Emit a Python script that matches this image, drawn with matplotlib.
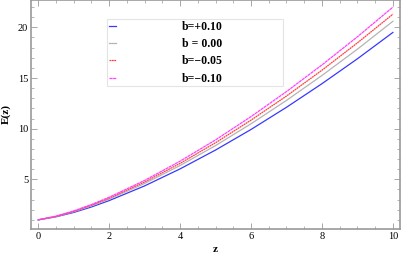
import matplotlib
matplotlib.use("Agg")
import matplotlib.pyplot as plt
from matplotlib.ticker import MultipleLocator
from matplotlib.transforms import IdentityTransform

# E(z)
z = [0, 0.5, 1, 1.5, 2, 3, 4, 5, 6, 7, 8, 9, 10]
e_p010 = [1.00, 1.30, 1.73, 2.27, 2.90, 4.35, 6.03, 7.89, 9.92, 12.11, 14.44, 16.90, 19.50]
e_000 = [1.00, 1.32, 1.80, 2.38, 3.04, 4.59, 6.36, 8.33, 10.48, 12.79, 15.25, 17.85, 20.60]
e_m005 = [1.00, 1.34, 1.84, 2.45, 3.14, 4.74, 6.57, 8.61, 10.84, 13.22, 15.77, 18.47, 21.30]
e_m010 = [1.00, 1.37, 1.88, 2.51, 3.23, 4.89, 6.79, 8.89, 11.19, 13.66, 16.29, 19.07, 22.00]
labels = ["b=+0.10", "b = 0.00", "b=\u22120.05", "b=\u22120.10"]

plt.rcParams["font.family"] = ["Liberation Serif", "DejaVu Serif"]

fig = plt.figure(figsize=(4.15, 2.59), dpi=100)
ax = fig.add_axes([31 / 415, 1 - 229 / 259, 369 / 415, 229 / 259])

ax.plot(z, e_p010, color="#3838ff", lw=0.9, label=labels[0])
ax.plot(z, e_000, color="#b4b4b4", lw=0.9, label=labels[1])
ax.plot(z, e_m005, color="#ff4040", lw=0.9, dashes=(1.5, 0.4), label=labels[2])
ax.plot(z, e_m010, color="#ff40ff", lw=0.9, dashes=(2.5, 0.4), label=labels[3])

ax.set_xlim(-0.2, 10.2)
ax.set_ylim(0.1, 22.7)
ax.xaxis.set_major_locator(MultipleLocator(2))
ax.xaxis.set_minor_locator(MultipleLocator(0.5))
ax.yaxis.set_major_locator(MultipleLocator(5))
ax.yaxis.set_minor_locator(MultipleLocator(1))

frame = "#999999"
for s in ax.spines.values():
    s.set_color(frame)
    s.set_linewidth(1.2)
ax.tick_params(which="both", direction="in", top=True, right=True,
               color=frame, labelsize=7.5, pad=2)
ax.tick_params(which="major", length=4, width=0.6)
ax.tick_params(which="minor", length=2, width=0.5)

ax.set_xlabel("z", fontsize=8, fontweight="bold", labelpad=3)
ax.set_ylabel("E(z)", fontsize=8, fontweight="bold", labelpad=5)

# legend box placed in pixel coordinates
leg = ax.legend(loc="upper left", bbox_to_anchor=(107, 259 - 86, 176, 67),
                bbox_transform=IdentityTransform(), mode="expand",
                prop={"weight": "bold", "size": 8.5},
                handlelength=0.6, handletextpad=5.6, labelspacing=0.45,
                borderpad=0.15, borderaxespad=0, fancybox=False, framealpha=1)
leg.get_frame().set_edgecolor("#e4e4e4")
leg.get_frame().set_linewidth(0.8)

fig.savefig("out.png", dpi=100)
